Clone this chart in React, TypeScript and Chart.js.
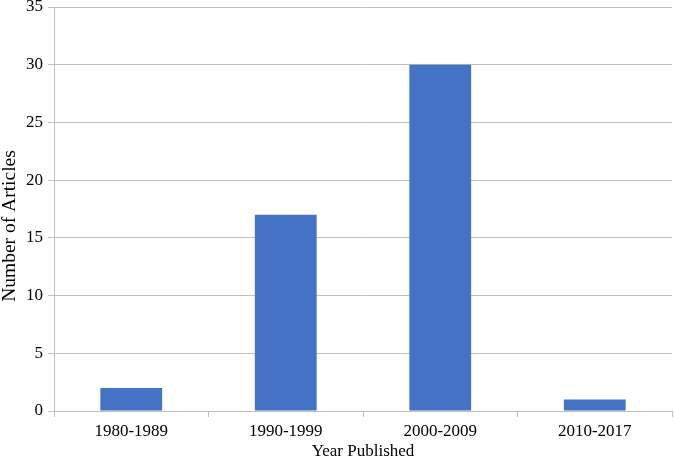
import React, { useEffect, useRef } from "react";
import { Chart, registerables } from "chart.js";

Chart.register(...registerables);

const categories = ["1980-1989", "1990-1999", "2000-2009", "2010-2017"];
const articleCounts = [2, 17, 30, 1];
const yTicks = [0, 5, 10, 15, 20, 25, 30, 35];
const xTitle = "Year Published";
const yTitle = "Number of Articles";

const family = "'Liberation Serif', 'Times New Roman', serif";

const yTitlePlugin = {
  id: "yTitlePlugin",
  afterDraw(chart: any) {
    const ctx = chart.ctx;
    ctx.save();
    ctx.translate(10, 226);
    ctx.rotate(-Math.PI / 2);
    ctx.textAlign = "center";
    ctx.textBaseline = "middle";
    ctx.fillStyle = "#000";
    ctx.font = `19.5px ${family}`;
    ctx.fillText(yTitle, 0, 0);
    ctx.restore();
  },
};

export default function App() {
  const ref = useRef<HTMLCanvasElement | null>(null);

  useEffect(() => {
    if (!ref.current) return;
    const tickFont = { family, size: 17 };
    const titleFont = { family, size: 17 };
    const chart = new Chart(ref.current, {
      type: "bar",
      data: {
        labels: categories,
        datasets: [
          {
            label: yTitle,
            data: articleCounts,
            backgroundColor: "#4472C4",
            borderWidth: 0,
            categoryPercentage: 1,
            barPercentage: 0.4,
          },
        ],
      },
      plugins: [yTitlePlugin],
      options: {
        animation: false,
        responsive: false,
        maintainAspectRatio: false,
        layout: { padding: { top: 7, right: 2, left: 0, bottom: 0 } },
        plugins: { legend: { display: false }, tooltip: { enabled: false } },
        scales: {
          x: {
            offset: true,
            grid: {
              offset: true,
              drawOnChartArea: false,
              drawTicks: true,
              tickLength: 6,
              color: "#bfbfbf",
            },
            border: { color: "#bfbfbf", width: 1 },
            ticks: { color: "#000", font: tickFont, padding: 4, maxRotation: 0 },
            title: {
              display: true,
              text: xTitle,
              color: "#000",
              font: titleFont,
              padding: { top: 0, bottom: 0 },
            },
            afterFit: (s: any) => {
              s.height = 51;
              s.paddingLeft = 0;
              s.paddingRight = 0;
            },
          },
          y: {
            min: 0,
            max: 35,
            afterBuildTicks: (s: any) => {
              s.ticks = yTicks.map((v) => ({ value: v }));
            },
            grid: { color: "#bfbfbf", tickLength: 6 },
            border: { color: "#bfbfbf", width: 1 },
            ticks: { color: "#000", font: tickFont, padding: 5 },
            title: { display: false },
            afterFit: (s: any) => {
              s.width = 54;
              s.paddingTop = 0;
              s.paddingBottom = 0;
            },
          },
        },
      },
    });
    return () => chart.destroy();
  }, []);

  return (
    <div style={{ position: "fixed", left: 0, top: 0, width: 674, height: 462, background: "#fff" }}>
      <canvas ref={ref} width={674} height={462} style={{ display: "block", width: 674, height: 462 }} />
    </div>
  );
}
